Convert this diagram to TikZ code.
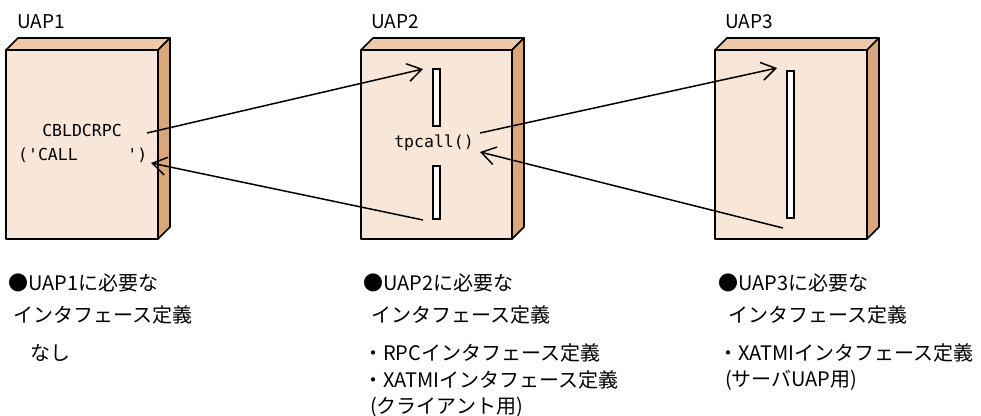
\documentclass[tikz,border=0pt]{standalone}
\usepackage{fontspec}
\setmainfont{Noto Sans CJK JP}
\setmonofont{DejaVu Sans Mono}
\usetikzlibrary{arrows.meta}
\definecolor{frontc}{HTML}{F8E7D8}
\definecolor{topc}{HTML}{EEC9A8}
\definecolor{sidec}{HTML}{D9A779}
\tikzset{
  boxline/.style={draw=black,line width=1.6pt,line join=round},
  slotbox/.style={draw=black,fill=white,line width=1.3pt},
  lbl/.style={inner sep=0pt,anchor=west,font=\fontsize{19pt}{22pt}\selectfont},
  jp/.style={inner sep=0pt,anchor=west,font=\fontsize{20pt}{24pt}\selectfont},
  code/.style={inner sep=0pt,font=\ttfamily\fontsize{16.5pt}{19pt}\selectfont},
  callarrow/.style={line width=1.5pt,-{Straight Barb[length=14pt,width=18pt,line width=1.5pt]}}
}
\begin{document}
\begin{tikzpicture}[x=1pt,y=-1pt]
\useasboundingbox (0,0) rectangle (981,415);
% UAP1 box
\filldraw[boxline,fill=topc] (6,50) -- (18,38) -- (170,38) -- (158,50) -- cycle;
\filldraw[boxline,fill=sidec] (158,50) -- (170,38) -- (170,227) -- (158,239) -- cycle;
\filldraw[boxline,fill=frontc] (6,50) rectangle (158,239);
% UAP2 box
\filldraw[boxline,fill=topc] (361,50) -- (373,38) -- (524,38) -- (512,50) -- cycle;
\filldraw[boxline,fill=sidec] (512,50) -- (524,38) -- (524,227) -- (512,239) -- cycle;
\filldraw[boxline,fill=frontc] (361,50) rectangle (512,239);
% UAP3 box
\filldraw[boxline,fill=topc] (715,50) -- (727,38) -- (879,38) -- (867,50) -- cycle;
\filldraw[boxline,fill=sidec] (867,50) -- (879,38) -- (879,227) -- (867,239) -- cycle;
\filldraw[boxline,fill=frontc] (715,50) rectangle (867,239);
% slots
\draw[slotbox] (433,69) rectangle (440,126);
\draw[slotbox] (433,166) rectangle (440,219);
\draw[slotbox] (787,71) rectangle (794,218);
% titles
\node[lbl] (t1) at (17,22) {UAP1};
\node[lbl] (t2) at (371,22) {UAP2};
\node[lbl] (t3) at (725,22) {UAP3};
% code texts
\node[code] (cbl) at (82,130) {CBLDCRPC};
\node[code,anchor=west] (cbl2) at (18,155) {('CALL\ \ \ \ \ ')};
\node[code] (tpc) at (434,143) {tpcall()};
% arrow endpoints
\coordinate (a1s) at (147,133);
\coordinate (a1e) at (423,69);
\coordinate (a2s) at (423,220);
\coordinate (a2e) at (151,163);
\coordinate (a3s) at (480,133);
\coordinate (a3e) at (777,68);
\coordinate (a4s) at (783,228);
\coordinate (a4e) at (480,152);
\draw[callarrow] (a1s) -- (a1e);
\draw[callarrow] (a2s) -- (a2e);
\draw[callarrow] (a3s) -- (a3e);
\draw[callarrow] (a4s) -- (a4e);
% bottom texts
\node[jp] (b1a) at (8,283) {●UAP1に必要な};
\node[jp] (b1b) at (13,315) {インタフェース定義};
\node[jp] (b1c) at (30,353) {なし};
\node[jp] (b2a) at (363,283) {●UAP2に必要な};
\node[jp] (b2b) at (371,315) {インタフェース定義};
\node[jp] (b2c) at (363,353) {・RPCインタフェース定義};
\node[jp] (b2d) at (363,380) {・XATMIインタフェース定義};
\node[jp] (b2e) at (370,407) {(クライアント用)};
\node[jp] (b3a) at (718,283) {●UAP3に必要な};
\node[jp] (b3b) at (728,315) {インタフェース定義};
\node[jp] (b3c) at (718,353) {・XATMIインタフェース定義};
\node[jp] (b3d) at (725,380) {(サーバUAP用)};
\end{tikzpicture}
\end{document}
